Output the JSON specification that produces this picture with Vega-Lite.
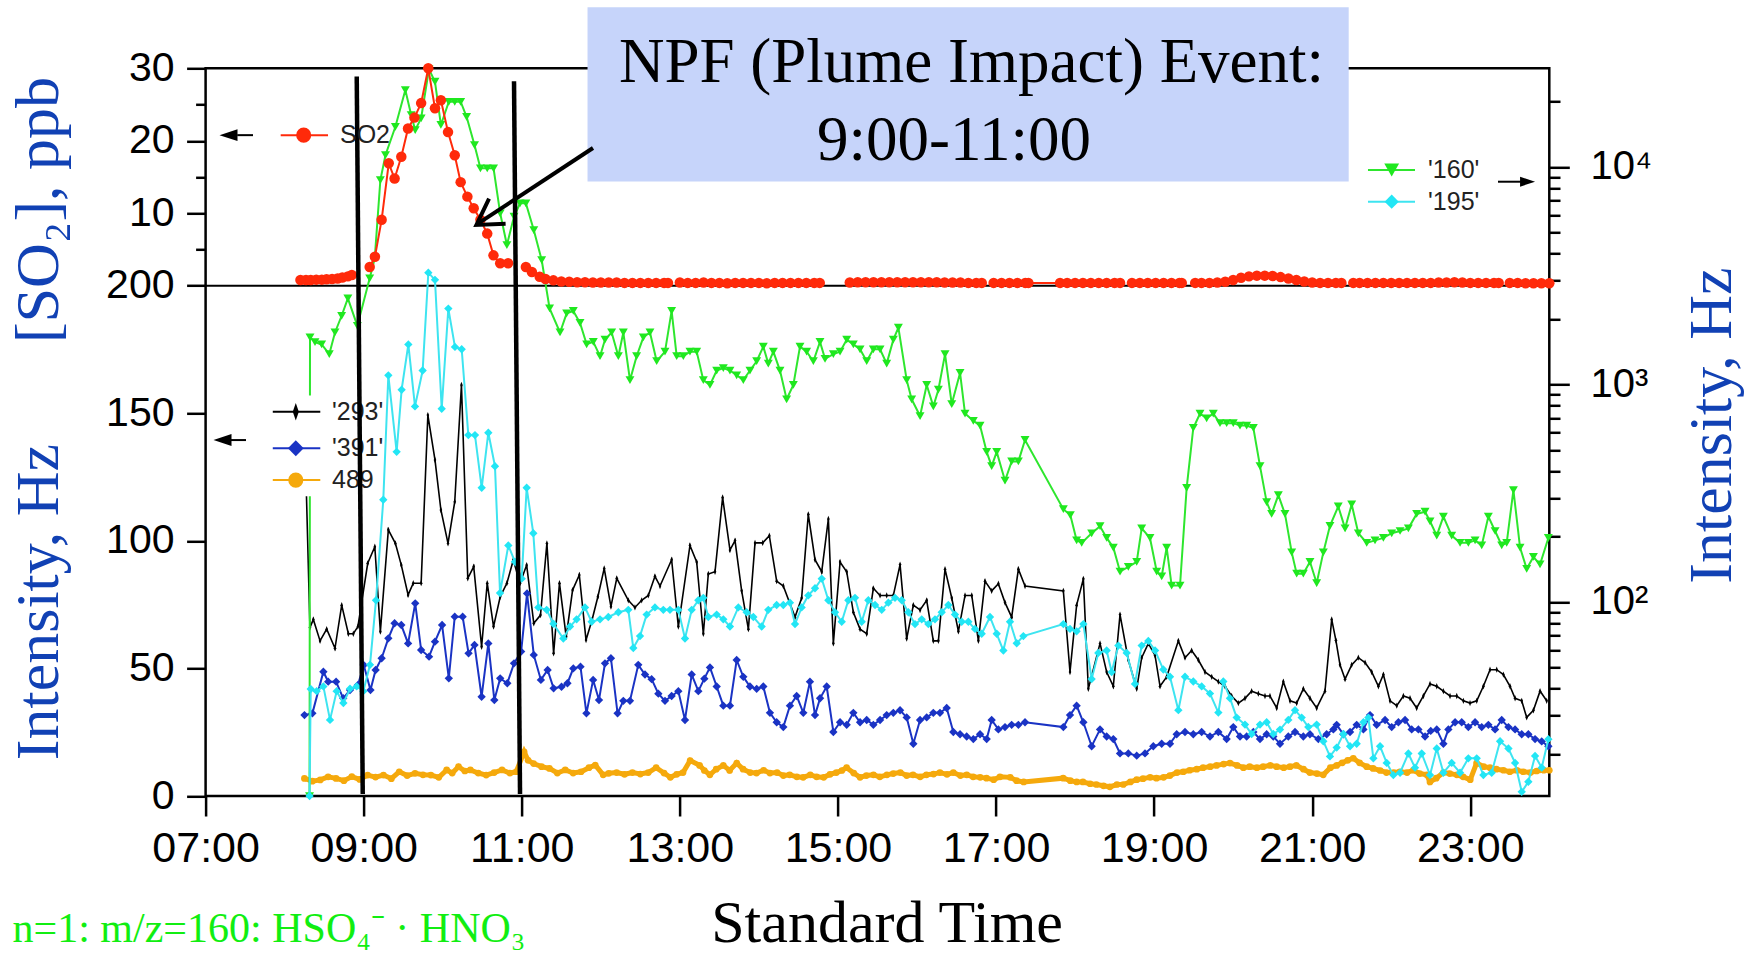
{
"$schema":"https://vega.github.io/schema/vega-lite/v6.json",
"usermeta":{"embedOptions":{"actions":false}},
"autosize":{"type":"none"},
"padding":{"left":205.6,"top":68.3,"right":206.7,"bottom":160},
"width":1343.7,"height":727.7,
"background":"white",
"config":{"view":{"stroke":"#000","strokeWidth":2.5},"axis":{"grid":false,"domain":false,"tickColor":"#000","tickWidth":2.5,"labelColor":"#000","labelFont":"Liberation Sans","labelFontSize":41,"titleFont":"Liberation Serif","titleFontSize":62,"titleFontWeight":"normal","labelOverlap":false,"labelFlush":false,"labelBound":false}},
"data":{"values":[{}]},
"datasets":{
"orange":[{"h":8.25,"v":6.9},{"h":8.35,"v":5.8},{"h":8.45,"v":6.3},{"h":8.55,"v":7.5},{"h":8.65,"v":6.9},{"h":8.75,"v":6.0},{"h":8.85,"v":7.6},{"h":8.95,"v":6.5},{"h":9.05,"v":8.2},{"h":9.15,"v":7.4},{"h":9.25,"v":8.2},{"h":9.35,"v":6.8},{"h":9.45,"v":9.5},{"h":9.55,"v":8.0},{"h":9.65,"v":8.9},{"h":9.75,"v":8.3},{"h":9.85,"v":8.2},{"h":9.95,"v":7.3},{"h":10.05,"v":10.2},{"h":10.12,"v":9.0},{"h":10.2,"v":11.5},{"h":10.28,"v":9.8},{"h":10.35,"v":10.2},{"h":10.45,"v":9.0},{"h":10.55,"v":8.2},{"h":10.65,"v":9.2},{"h":10.75,"v":10.2},{"h":10.85,"v":9.0},{"h":10.93,"v":9.5},{"h":11.03,"v":17.3},{"h":11.08,"v":14.0},{"h":11.15,"v":12.7},{"h":11.25,"v":11.5},{"h":11.35,"v":10.8},{"h":11.45,"v":9.0},{"h":11.55,"v":10.2},{"h":11.65,"v":9.0},{"h":11.75,"v":9.5},{"h":11.85,"v":11.1},{"h":11.93,"v":12.1},{"h":12.03,"v":8.3},{"h":12.1,"v":8.9},{"h":12.2,"v":9.2},{"h":12.3,"v":8.5},{"h":12.4,"v":9.2},{"h":12.5,"v":8.6},{"h":12.6,"v":9.2},{"h":12.7,"v":11.1},{"h":12.8,"v":9.0},{"h":12.88,"v":7.3},{"h":12.96,"v":8.5},{"h":13.04,"v":9.2},{"h":13.13,"v":13.9},{"h":13.25,"v":12.0},{"h":13.31,"v":10.0},{"h":13.38,"v":8.3},{"h":13.46,"v":10.5},{"h":13.55,"v":12.0},{"h":13.63,"v":10.0},{"h":13.72,"v":12.9},{"h":13.8,"v":10.5},{"h":13.89,"v":9.2},{"h":13.97,"v":9.0},{"h":14.06,"v":10.1},{"h":14.14,"v":9.0},{"h":14.23,"v":9.2},{"h":14.31,"v":8.0},{"h":14.39,"v":8.3},{"h":14.48,"v":7.5},{"h":14.56,"v":7.3},{"h":14.65,"v":8.3},{"h":14.73,"v":7.5},{"h":14.82,"v":7.3},{"h":14.9,"v":8.5},{"h":14.98,"v":9.2},{"h":15.05,"v":10.0},{"h":15.11,"v":11.1},{"h":15.2,"v":9.0},{"h":15.28,"v":7.3},{"h":15.36,"v":8.0},{"h":15.45,"v":8.3},{"h":15.53,"v":7.5},{"h":15.62,"v":8.3},{"h":15.7,"v":8.8},{"h":15.79,"v":9.2},{"h":15.87,"v":8.0},{"h":15.95,"v":8.3},{"h":16.04,"v":7.5},{"h":16.12,"v":8.3},{"h":16.21,"v":8.6},{"h":16.29,"v":9.2},{"h":16.38,"v":8.5},{"h":16.46,"v":9.2},{"h":16.55,"v":8.0},{"h":16.63,"v":8.3},{"h":16.71,"v":7.5},{"h":16.8,"v":7.3},{"h":16.88,"v":7.0},{"h":16.97,"v":6.4},{"h":17.05,"v":7.5},{"h":17.18,"v":7.3},{"h":17.26,"v":6.0},{"h":17.35,"v":5.5},{"h":17.85,"v":7.0},{"h":17.94,"v":6.0},{"h":18.02,"v":5.5},{"h":18.1,"v":5.5},{"h":18.19,"v":4.8},{"h":18.27,"v":4.5},{"h":18.36,"v":4.0},{"h":18.44,"v":3.6},{"h":18.53,"v":4.5},{"h":18.61,"v":4.5},{"h":18.7,"v":5.5},{"h":18.78,"v":6.4},{"h":18.86,"v":6.8},{"h":18.95,"v":7.3},{"h":19.03,"v":7.0},{"h":19.12,"v":7.3},{"h":19.2,"v":8.0},{"h":19.29,"v":9.2},{"h":19.37,"v":9.5},{"h":19.45,"v":10.1},{"h":19.54,"v":10.5},{"h":19.62,"v":11.1},{"h":19.71,"v":11.5},{"h":19.79,"v":12.0},{"h":19.88,"v":12.5},{"h":19.96,"v":12.9},{"h":20.05,"v":12.0},{"h":20.13,"v":11.1},{"h":20.21,"v":11.5},{"h":20.3,"v":11.1},{"h":20.38,"v":11.5},{"h":20.47,"v":12.0},{"h":20.55,"v":11.5},{"h":20.64,"v":11.1},{"h":20.72,"v":11.5},{"h":20.8,"v":12.0},{"h":20.89,"v":10.5},{"h":20.97,"v":9.2},{"h":21.06,"v":8.8},{"h":21.14,"v":8.3},{"h":21.23,"v":11.1},{"h":21.31,"v":12.0},{"h":21.38,"v":13.0},{"h":21.45,"v":14.0},{"h":21.52,"v":14.8},{"h":21.6,"v":13.0},{"h":21.69,"v":11.5},{"h":21.77,"v":10.8},{"h":21.86,"v":10.0},{"h":21.94,"v":9.2},{"h":22.03,"v":9.2},{"h":22.11,"v":9.5},{"h":22.2,"v":9.2},{"h":22.28,"v":10.1},{"h":22.36,"v":8.8},{"h":22.45,"v":8.3},{"h":22.49,"v":5.5},{"h":22.57,"v":7.0},{"h":22.66,"v":9.2},{"h":22.74,"v":8.8},{"h":22.83,"v":8.3},{"h":22.91,"v":7.5},{"h":23.0,"v":6.4},{"h":23.08,"v":12.9},{"h":23.17,"v":11.5},{"h":23.25,"v":11.1},{"h":23.33,"v":10.5},{"h":23.42,"v":10.1},{"h":23.5,"v":9.5},{"h":23.59,"v":10.1},{"h":23.67,"v":9.5},{"h":23.76,"v":9.2},{"h":23.84,"v":9.8},{"h":23.93,"v":10.1},{"h":24.0,"v":10.1}],
"black":[{"h":8.27,"v":125},{"h":8.32,"v":66},{"h":8.363,"v":69.2},{"h":8.448,"v":60.8},{"h":8.532,"v":65.4},{"h":8.637,"v":57.9},{"h":8.722,"v":74.8},{"h":8.806,"v":63.6},{"h":8.869,"v":63.6},{"h":8.927,"v":66.4},{"h":9.051,"v":91.2},{"h":9.141,"v":97.7},{"h":9.211,"v":64.4},{"h":9.312,"v":104.3},{"h":9.401,"v":99.0},{"h":9.476,"v":90.5},{"h":9.562,"v":78.8},{"h":9.627,"v":83.4},{"h":9.727,"v":83.4},{"h":9.812,"v":149.3},{"h":9.902,"v":131.7},{"h":9.977,"v":112.1},{"h":10.067,"v":99.0},{"h":10.152,"v":115.3},{"h":10.237,"v":161.1},{"h":10.317,"v":85.3},{"h":10.392,"v":89.9},{"h":10.492,"v":58.5},{"h":10.563,"v":83.4},{"h":10.643,"v":66.4},{"h":10.727,"v":78.1},{"h":10.812,"v":83.4},{"h":10.893,"v":92.5},{"h":10.978,"v":83.4},{"h":11.062,"v":90.5},{"h":11.152,"v":67.7},{"h":11.237,"v":70.9},{"h":11.318,"v":99.0},{"h":11.403,"v":55.9},{"h":11.477,"v":83.4},{"h":11.562,"v":62.4},{"h":11.643,"v":80.7},{"h":11.728,"v":86.6},{"h":11.813,"v":61.1},{"h":11.889,"v":69.0},{"h":11.963,"v":78.1},{"h":12.043,"v":89.2},{"h":12.128,"v":74.2},{"h":12.202,"v":85.3},{"h":12.348,"v":76.7},{"h":12.432,"v":73.9},{"h":12.517,"v":76.7},{"h":12.601,"v":78.6},{"h":12.685,"v":86.1},{"h":12.749,"v":82.3},{"h":12.896,"v":92.6},{"h":12.981,"v":66.4},{"h":13.128,"v":98.2},{"h":13.213,"v":91.7},{"h":13.297,"v":63.6},{"h":13.36,"v":87.0},{"h":13.445,"v":87.9},{"h":13.541,"v":117.0},{"h":13.634,"v":96.4},{"h":13.698,"v":100.1},{"h":13.782,"v":80.4},{"h":13.867,"v":65.4},{"h":13.951,"v":99.2},{"h":14.048,"v":99.2},{"h":14.132,"v":102.0},{"h":14.225,"v":84.2},{"h":14.309,"v":82.3},{"h":14.457,"v":70.1},{"h":14.541,"v":77.6},{"h":14.625,"v":110.4},{"h":14.71,"v":92.6},{"h":14.795,"v":87.9},{"h":14.879,"v":108.6},{"h":14.942,"v":59.8},{"h":15.027,"v":91.7},{"h":15.111,"v":87.9},{"h":15.195,"v":72.0},{"h":15.28,"v":65.4},{"h":15.364,"v":63.6},{"h":15.448,"v":81.4},{"h":15.533,"v":78.6},{"h":15.617,"v":78.6},{"h":15.701,"v":78.6},{"h":15.786,"v":90.7},{"h":15.87,"v":61.7},{"h":15.954,"v":74.8},{"h":16.039,"v":72.9},{"h":16.123,"v":76.7},{"h":16.207,"v":60.8},{"h":16.271,"v":60.8},{"h":16.355,"v":88.9},{"h":16.44,"v":77.6},{"h":16.524,"v":64.5},{"h":16.608,"v":78.6},{"h":16.693,"v":78.6},{"h":16.777,"v":60.8},{"h":16.861,"v":84.2},{"h":16.945,"v":80.4},{"h":17.03,"v":83.2},{"h":17.114,"v":75.8},{"h":17.198,"v":70.1},{"h":17.283,"v":88.9},{"h":17.367,"v":82.3},{"h":17.852,"v":80.4},{"h":17.936,"v":48.6},{"h":18.02,"v":74.8},{"h":18.105,"v":85.1},{"h":18.168,"v":42.0},{"h":18.316,"v":59.8},{"h":18.4,"v":48.6},{"h":18.484,"v":43.0},{"h":18.569,"v":71.1},{"h":18.674,"v":53.3},{"h":18.78,"v":42.0},{"h":18.843,"v":54.2},{"h":18.927,"v":59.8},{"h":19.012,"v":55.1},{"h":19.075,"v":43.0},{"h":19.159,"v":46.7},{"h":19.307,"v":60.8},{"h":19.391,"v":54.2},{"h":19.475,"v":57.0},{"h":19.56,"v":53.3},{"h":19.644,"v":48.6},{"h":19.729,"v":46.7},{"h":19.813,"v":44.8},{"h":19.897,"v":43.0},{"h":19.981,"v":39.2},{"h":20.066,"v":36.4},{"h":20.15,"v":38.3},{"h":20.234,"v":41.1},{"h":20.319,"v":40.1},{"h":20.403,"v":39.2},{"h":20.466,"v":39.2},{"h":20.551,"v":34.5},{"h":20.635,"v":44.8},{"h":20.72,"v":37.3},{"h":20.804,"v":36.4},{"h":20.888,"v":42.0},{"h":20.972,"v":38.3},{"h":21.057,"v":34.5},{"h":21.162,"v":41.1},{"h":21.247,"v":69.2},{"h":21.3,"v":61.0},{"h":21.352,"v":51.4},{"h":21.416,"v":45.8},{"h":21.5,"v":51.4},{"h":21.584,"v":54.2},{"h":21.669,"v":52.3},{"h":21.753,"v":48.6},{"h":21.838,"v":43.0},{"h":21.901,"v":47.6},{"h":21.985,"v":37.3},{"h":22.07,"v":35.4},{"h":22.154,"v":39.2},{"h":22.238,"v":38.3},{"h":22.322,"v":34.5},{"h":22.407,"v":39.2},{"h":22.491,"v":43.9},{"h":22.576,"v":43.0},{"h":22.66,"v":41.1},{"h":22.744,"v":39.2},{"h":22.829,"v":39.2},{"h":22.913,"v":37.3},{"h":22.997,"v":36.4},{"h":23.082,"v":37.3},{"h":23.166,"v":43.0},{"h":23.25,"v":49.5},{"h":23.335,"v":49.5},{"h":23.419,"v":47.6},{"h":23.503,"v":43.0},{"h":23.567,"v":38.3},{"h":23.651,"v":37.3},{"h":23.714,"v":30.8},{"h":23.799,"v":33.6},{"h":23.883,"v":41.1},{"h":23.967,"v":37.3}],
"blue":[{"h":8.251,"v":31.7},{"h":8.351,"v":32.4},{"h":8.49,"v":48.7},{"h":8.551,"v":44.8},{"h":8.651,"v":44.8},{"h":8.741,"v":38.3},{"h":8.827,"v":41.5},{"h":8.927,"v":43.5},{"h":9.001,"v":51.3},{"h":9.086,"v":41.5},{"h":9.151,"v":49.4},{"h":9.227,"v":54.0},{"h":9.312,"v":61.8},{"h":9.391,"v":67.7},{"h":9.476,"v":67.0},{"h":9.562,"v":59.8},{"h":9.652,"v":75.5},{"h":9.727,"v":57.2},{"h":9.827,"v":54.6},{"h":9.902,"v":60.5},{"h":9.992,"v":67.0},{"h":10.077,"v":46.1},{"h":10.152,"v":70.3},{"h":10.252,"v":70.3},{"h":10.327,"v":55.9},{"h":10.402,"v":59.2},{"h":10.492,"v":38.9},{"h":10.577,"v":59.8},{"h":10.653,"v":37.6},{"h":10.727,"v":46.1},{"h":10.817,"v":44.2},{"h":10.902,"v":52.0},{"h":10.992,"v":56.6},{"h":11.067,"v":79.4},{"h":11.152,"v":55.3},{"h":11.242,"v":45.5},{"h":11.327,"v":49.4},{"h":11.403,"v":42.2},{"h":11.503,"v":42.8},{"h":11.578,"v":44.2},{"h":11.652,"v":50.0},{"h":11.743,"v":50.7},{"h":11.818,"v":32.4},{"h":11.903,"v":45.5},{"h":11.977,"v":37.6},{"h":12.053,"v":52.0},{"h":12.128,"v":54.0},{"h":12.212,"v":32.4},{"h":12.285,"v":37.3},{"h":12.369,"v":37.3},{"h":12.474,"v":51.4},{"h":12.559,"v":47.6},{"h":12.643,"v":45.8},{"h":12.728,"v":40.1},{"h":12.812,"v":37.3},{"h":12.896,"v":39.2},{"h":12.981,"v":41.1},{"h":13.065,"v":29.8},{"h":13.15,"v":47.6},{"h":13.234,"v":41.1},{"h":13.31,"v":46.0},{"h":13.381,"v":50.4},{"h":13.466,"v":42.9},{"h":13.55,"v":35.4},{"h":13.634,"v":35.4},{"h":13.719,"v":53.3},{"h":13.803,"v":46.7},{"h":13.887,"v":42.9},{"h":13.972,"v":42.0},{"h":14.056,"v":42.9},{"h":14.14,"v":32.6},{"h":14.225,"v":28.9},{"h":14.309,"v":27.0},{"h":14.393,"v":35.4},{"h":14.478,"v":39.2},{"h":14.562,"v":32.6},{"h":14.646,"v":44.8},{"h":14.71,"v":31.7},{"h":14.774,"v":38.3},{"h":14.858,"v":42.9},{"h":14.942,"v":25.1},{"h":15.027,"v":28.9},{"h":15.111,"v":27.9},{"h":15.195,"v":32.6},{"h":15.28,"v":28.9},{"h":15.364,"v":29.8},{"h":15.448,"v":27.9},{"h":15.533,"v":29.8},{"h":15.617,"v":31.7},{"h":15.701,"v":32.6},{"h":15.786,"v":33.6},{"h":15.87,"v":30.8},{"h":15.954,"v":20.5},{"h":16.039,"v":29.8},{"h":16.123,"v":30.8},{"h":16.207,"v":32.6},{"h":16.291,"v":32.6},{"h":16.376,"v":34.5},{"h":16.46,"v":25.1},{"h":16.545,"v":24.2},{"h":16.629,"v":23.3},{"h":16.713,"v":22.3},{"h":16.798,"v":24.2},{"h":16.882,"v":22.3},{"h":16.945,"v":29.8},{"h":17.03,"v":26.1},{"h":17.114,"v":27.0},{"h":17.198,"v":27.9},{"h":17.283,"v":27.9},{"h":17.367,"v":28.9},{"h":17.852,"v":27.0},{"h":17.936,"v":31.7},{"h":18.02,"v":35.4},{"h":18.105,"v":28.9},{"h":18.21,"v":19.5},{"h":18.316,"v":26.1},{"h":18.4,"v":23.3},{"h":18.484,"v":22.3},{"h":18.569,"v":16.7},{"h":18.674,"v":16.7},{"h":18.78,"v":15.8},{"h":18.885,"v":16.7},{"h":18.99,"v":19.5},{"h":19.096,"v":20.5},{"h":19.201,"v":20.5},{"h":19.286,"v":24.2},{"h":19.391,"v":25.1},{"h":19.496,"v":24.2},{"h":19.602,"v":25.1},{"h":19.707,"v":23.3},{"h":19.813,"v":25.1},{"h":19.918,"v":22.3},{"h":20.002,"v":27.0},{"h":20.087,"v":23.3},{"h":20.171,"v":23.3},{"h":20.256,"v":25.1},{"h":20.34,"v":22.3},{"h":20.424,"v":24.2},{"h":20.508,"v":23.3},{"h":20.593,"v":20.5},{"h":20.698,"v":23.3},{"h":20.783,"v":25.1},{"h":20.888,"v":23.3},{"h":20.972,"v":24.2},{"h":21.078,"v":22.3},{"h":21.183,"v":24.2},{"h":21.268,"v":26.1},{"h":21.31,"v":27.9},{"h":21.395,"v":24.2},{"h":21.479,"v":25.1},{"h":21.563,"v":27.9},{"h":21.648,"v":26.1},{"h":21.732,"v":31.7},{"h":21.816,"v":27.9},{"h":21.922,"v":29.8},{"h":22.006,"v":27.0},{"h":22.091,"v":28.9},{"h":22.175,"v":29.8},{"h":22.259,"v":26.1},{"h":22.344,"v":26.1},{"h":22.428,"v":23.3},{"h":22.5,"v":25.5},{"h":22.576,"v":26.1},{"h":22.66,"v":20.5},{"h":22.723,"v":26.1},{"h":22.808,"v":28.9},{"h":22.892,"v":28.9},{"h":22.976,"v":27.0},{"h":23.061,"v":28.9},{"h":23.145,"v":27.0},{"h":23.229,"v":27.9},{"h":23.314,"v":26.1},{"h":23.398,"v":29.8},{"h":23.483,"v":27.0},{"h":23.567,"v":26.1},{"h":23.651,"v":24.2},{"h":23.735,"v":24.2},{"h":23.82,"v":22.3},{"h":23.904,"v":21.4},{"h":23.988,"v":19.5}],
"green":[{"h":8.315,"v":12.82},{"h":8.321,"v":1648},{"h":8.384,"v":1567},{"h":8.468,"v":1528},{"h":8.565,"v":1380},{"h":8.637,"v":1734},{"h":8.721,"v":2070},{"h":8.8,"v":2489},{"h":8.92,"v":1862},{"h":9.076,"v":3076},{"h":9.14,"v":3802},{"h":9.211,"v":8710},{"h":9.276,"v":11350},{"h":9.401,"v":15310},{"h":9.527,"v":22590},{"h":9.601,"v":17340},{"h":9.652,"v":14790},{"h":9.727,"v":16750},{"h":9.826,"v":28180},{"h":9.902,"v":24660},{"h":9.977,"v":15600},{"h":10.077,"v":19950},{"h":10.152,"v":19950},{"h":10.227,"v":19950},{"h":10.302,"v":17020},{"h":10.402,"v":12620},{"h":10.477,"v":9863},{"h":10.563,"v":9863},{"h":10.643,"v":9863},{"h":10.727,"v":6124},{"h":10.812,"v":4375},{"h":10.902,"v":5916},{"h":10.978,"v":6808},{"h":11.052,"v":6808},{"h":11.152,"v":5129},{"h":11.252,"v":3733},{"h":11.352,"v":2239},{"h":11.484,"v":1734},{"h":11.568,"v":2123},{"h":11.652,"v":2178},{"h":11.737,"v":1919},{"h":11.821,"v":1531},{"h":11.905,"v":1570},{"h":11.99,"v":1349},{"h":12.053,"v":1607},{"h":12.137,"v":1734},{"h":12.222,"v":1349},{"h":12.285,"v":1734},{"h":12.369,"v":1047},{"h":12.453,"v":1349},{"h":12.538,"v":1648},{"h":12.622,"v":1734},{"h":12.707,"v":1279},{"h":12.812,"v":1416},{"h":12.896,"v":2178},{"h":12.96,"v":1349},{"h":13.044,"v":1349},{"h":13.128,"v":1416},{"h":13.213,"v":1416},{"h":13.297,"v":1047},{"h":13.381,"v":995},{"h":13.466,"v":1159},{"h":13.55,"v":1189},{"h":13.634,"v":1159},{"h":13.719,"v":1102},{"h":13.803,"v":1047},{"h":13.887,"v":1159},{"h":13.972,"v":1279},{"h":14.056,"v":1493},{"h":14.119,"v":1247},{"h":14.183,"v":1416},{"h":14.267,"v":1159},{"h":14.351,"v":855},{"h":14.436,"v":995},{"h":14.52,"v":1493},{"h":14.604,"v":1416},{"h":14.689,"v":1279},{"h":14.773,"v":1570},{"h":14.837,"v":1312},{"h":14.942,"v":1380},{"h":15.027,"v":1416},{"h":15.111,"v":1607},{"h":15.195,"v":1528},{"h":15.28,"v":1452},{"h":15.364,"v":1279},{"h":15.448,"v":1452},{"h":15.533,"v":1452},{"h":15.617,"v":1247},{"h":15.701,"v":1607},{"h":15.765,"v":1824},{"h":15.87,"v":1047},{"h":15.933,"v":855},{"h":16.039,"v":716},{"h":16.123,"v":995},{"h":16.207,"v":793},{"h":16.271,"v":946},{"h":16.355,"v":1380},{"h":16.44,"v":813},{"h":16.545,"v":1130},{"h":16.608,"v":735},{"h":16.713,"v":681},{"h":16.798,"v":647},{"h":16.882,"v":490},{"h":16.945,"v":421},{"h":17.009,"v":490},{"h":17.114,"v":361},{"h":17.198,"v":443},{"h":17.283,"v":443},{"h":17.367,"v":556},{"h":17.852,"v":267},{"h":17.94,"v":251},{"h":18.02,"v":192},{"h":18.084,"v":187},{"h":18.21,"v":207},{"h":18.316,"v":223},{"h":18.4,"v":197},{"h":18.484,"v":178},{"h":18.569,"v":138},{"h":18.674,"v":145},{"h":18.78,"v":153},{"h":18.843,"v":218},{"h":18.948,"v":197},{"h":19.033,"v":138},{"h":19.096,"v":131},{"h":19.159,"v":178},{"h":19.222,"v":119},{"h":19.328,"v":119},{"h":19.412,"v":335},{"h":19.496,"v":631},{"h":19.581,"v":735},{"h":19.665,"v":698},{"h":19.749,"v":735},{"h":19.834,"v":664},{"h":19.918,"v":664},{"h":20.002,"v":664},{"h":20.087,"v":647},{"h":20.171,"v":647},{"h":20.256,"v":631},{"h":20.34,"v":421},{"h":20.424,"v":288},{"h":20.487,"v":254},{"h":20.572,"v":310},{"h":20.656,"v":254},{"h":20.741,"v":169},{"h":20.804,"v":135},{"h":20.888,"v":135},{"h":20.972,"v":153},{"h":21.057,"v":122},{"h":21.141,"v":169},{"h":21.225,"v":224},{"h":21.33,"v":275},{"h":21.416,"v":218},{"h":21.5,"v":281},{"h":21.584,"v":207},{"h":21.69,"v":187},{"h":21.795,"v":192},{"h":21.901,"v":197},{"h":22.006,"v":207},{"h":22.112,"v":212},{"h":22.217,"v":218},{"h":22.322,"v":254},{"h":22.428,"v":260},{"h":22.491,"v":235},{"h":22.576,"v":202},{"h":22.66,"v":247},{"h":22.765,"v":202},{"h":22.871,"v":187},{"h":22.976,"v":187},{"h":23.061,"v":192},{"h":23.145,"v":182},{"h":23.229,"v":247},{"h":23.314,"v":212},{"h":23.398,"v":182},{"h":23.461,"v":187},{"h":23.546,"v":327},{"h":23.63,"v":178},{"h":23.714,"v":142},{"h":23.799,"v":161},{"h":23.883,"v":149},{"h":23.988,"v":197}],
"cyan":[{"h":8.315,"v":12.82},{"h":8.33,"v":39.8},{"h":8.405,"v":38.9},{"h":8.49,"v":40.9},{"h":8.574,"v":28.7},{"h":8.658,"v":38.9},{"h":8.743,"v":34.3},{"h":8.827,"v":39.9},{"h":8.911,"v":40.9},{"h":8.996,"v":38.9},{"h":9.08,"v":51.4},{"h":9.156,"v":101.9},{"h":9.248,"v":295},{"h":9.312,"v":1102},{"h":9.417,"v":490},{"h":9.48,"v":946},{"h":9.565,"v":1528},{"h":9.649,"v":793},{"h":9.746,"v":1159},{"h":9.818,"v":3266},{"h":9.902,"v":3027},{"h":9.987,"v":773},{"h":10.071,"v":2234},{"h":10.155,"v":1489},{"h":10.24,"v":1452},{"h":10.324,"v":585},{"h":10.408,"v":585},{"h":10.493,"v":335},{"h":10.577,"v":600},{"h":10.661,"v":421},{"h":10.725,"v":110},{"h":10.83,"v":182},{"h":10.914,"v":153},{"h":10.999,"v":128},{"h":11.062,"v":335},{"h":11.146,"v":207},{"h":11.21,"v":94.4},{"h":11.315,"v":92.0},{"h":11.4,"v":79.4},{"h":11.526,"v":67.9},{"h":11.61,"v":77.1},{"h":11.694,"v":83.2},{"h":11.8,"v":94.4},{"h":11.884,"v":81.1},{"h":11.99,"v":83.2},{"h":12.095,"v":85.3},{"h":12.222,"v":89.7},{"h":12.348,"v":92.0},{"h":12.411,"v":61.4},{"h":12.496,"v":69.7},{"h":12.58,"v":87.5},{"h":12.685,"v":94.4},{"h":12.791,"v":92.0},{"h":12.875,"v":92.0},{"h":12.981,"v":92.0},{"h":13.065,"v":67.9},{"h":13.15,"v":92.0},{"h":13.234,"v":101.9},{"h":13.297,"v":104.5},{"h":13.36,"v":85.3},{"h":13.466,"v":87.5},{"h":13.55,"v":83.2},{"h":13.634,"v":77.1},{"h":13.74,"v":94.4},{"h":13.845,"v":89.7},{"h":13.93,"v":85.3},{"h":14.035,"v":77.1},{"h":14.119,"v":92.0},{"h":14.225,"v":96.8},{"h":14.309,"v":96.8},{"h":14.393,"v":99.3},{"h":14.457,"v":79.1},{"h":14.541,"v":94.4},{"h":14.625,"v":107.2},{"h":14.71,"v":115.6},{"h":14.795,"v":128},{"h":14.879,"v":101.9},{"h":14.963,"v":89.7},{"h":15.048,"v":81.1},{"h":15.132,"v":101.9},{"h":15.216,"v":104.5},{"h":15.301,"v":81.1},{"h":15.385,"v":101.9},{"h":15.47,"v":96.8},{"h":15.554,"v":92.0},{"h":15.638,"v":99.3},{"h":15.722,"v":104.5},{"h":15.807,"v":101.9},{"h":15.891,"v":89.7},{"h":15.975,"v":79.1},{"h":16.06,"v":83.2},{"h":16.144,"v":79.1},{"h":16.228,"v":83.2},{"h":16.313,"v":89.7},{"h":16.397,"v":96.8},{"h":16.481,"v":87.5},{"h":16.566,"v":81.1},{"h":16.65,"v":81.1},{"h":16.734,"v":75.2},{"h":16.819,"v":71.4},{"h":16.924,"v":85.3},{"h":17.009,"v":71.4},{"h":17.093,"v":59.8},{"h":17.177,"v":81.1},{"h":17.262,"v":64.6},{"h":17.346,"v":69.7},{"h":17.852,"v":79.1},{"h":17.936,"v":75.2},{"h":18.02,"v":73.3},{"h":18.105,"v":79.1},{"h":18.21,"v":44.2},{"h":18.294,"v":58.3},{"h":18.4,"v":59.8},{"h":18.463,"v":47.6},{"h":18.548,"v":63.0},{"h":18.653,"v":58.3},{"h":18.758,"v":42.0},{"h":18.843,"v":63.0},{"h":18.927,"v":66.2},{"h":19.012,"v":59.8},{"h":19.117,"v":48.9},{"h":19.201,"v":45.3},{"h":19.307,"v":31.8},{"h":19.391,"v":45.3},{"h":19.496,"v":43.1},{"h":19.602,"v":40.9},{"h":19.707,"v":37.9},{"h":19.813,"v":31.0},{"h":19.876,"v":43.1},{"h":19.96,"v":36.1},{"h":20.045,"v":29.4},{"h":20.15,"v":27.3},{"h":20.234,"v":24.7},{"h":20.34,"v":27.3},{"h":20.424,"v":28.0},{"h":20.508,"v":24.7},{"h":20.593,"v":25.9},{"h":20.698,"v":28.7},{"h":20.783,"v":31.8},{"h":20.867,"v":29.4},{"h":20.951,"v":26.6},{"h":21.057,"v":27.3},{"h":21.141,"v":22.9},{"h":21.225,"v":19.5},{"h":21.31,"v":21.4},{"h":21.395,"v":24.7},{"h":21.479,"v":21.7},{"h":21.563,"v":22.3},{"h":21.648,"v":28.0},{"h":21.711,"v":29.4},{"h":21.774,"v":19.1},{"h":21.859,"v":21.7},{"h":21.943,"v":18.2},{"h":22.027,"v":16.0},{"h":22.112,"v":16.4},{"h":22.217,"v":20.1},{"h":22.301,"v":17.3},{"h":22.386,"v":20.1},{"h":22.491,"v":16.0},{"h":22.576,"v":21.2},{"h":22.66,"v":16.4},{"h":22.765,"v":18.2},{"h":22.871,"v":16.4},{"h":22.976,"v":19.1},{"h":23.082,"v":19.1},{"h":23.166,"v":16.0},{"h":23.271,"v":16.4},{"h":23.377,"v":22.9},{"h":23.483,"v":21.2},{"h":23.567,"v":18.2},{"h":23.651,"v":13.4},{"h":23.735,"v":14.9},{"h":23.82,"v":19.6},{"h":23.904,"v":17.3},{"h":23.988,"v":23.4}],
"so2":[{"h":8.2,"v":0.8,"s":"a"},{"h":8.27,"v":0.8,"s":"a"},{"h":8.33,"v":0.8,"s":"a"},{"h":8.4,"v":0.85,"s":"a"},{"h":8.47,"v":0.85,"s":"a"},{"h":8.53,"v":0.9,"s":"a"},{"h":8.6,"v":0.95,"s":"a"},{"h":8.67,"v":1.0,"s":"a"},{"h":8.73,"v":1.15,"s":"a"},{"h":8.8,"v":1.3,"s":"a"},{"h":8.85,"v":1.5,"s":"a"},
{"h":9.076,"v":2.6,"s":"b"},{"h":9.142,"v":4.0,"s":"b"},{"h":9.227,"v":9.1,"s":"b"},{"h":9.317,"v":16.9,"s":"b"},{"h":9.391,"v":14.8,"s":"b"},{"h":9.476,"v":17.8,"s":"b"},{"h":9.561,"v":21.7,"s":"b"},{"h":9.642,"v":23.2,"s":"b"},{"h":9.727,"v":25.2,"s":"b"},{"h":9.817,"v":30.0,"s":"b"},{"h":9.902,"v":24.5,"s":"b"},{"h":9.977,"v":25.6,"s":"b"},{"h":10.067,"v":21.2,"s":"b"},{"h":10.152,"v":18.0,"s":"b"},{"h":10.227,"v":14.3,"s":"b"},{"h":10.312,"v":12.3,"s":"b"},{"h":10.392,"v":10.7,"s":"b"},{"h":10.477,"v":9.1,"s":"b"},{"h":10.563,"v":7.2,"s":"b"},{"h":10.642,"v":4.2,"s":"b"},{"h":10.727,"v":3.1,"s":"b"},{"h":10.827,"v":3.1,"s":"b"},
{"h":11.052,"v":2.6,"s":"c"},{"h":11.128,"v":1.9,"s":"c"},{"h":11.227,"v":1.24,"s":"c"},{"h":11.3,"v":0.95,"s":"c"},{"h":11.4,"v":0.75,"s":"c"},{"h":11.5,"v":0.6,"s":"c"},{"h":11.6,"v":0.55,"s":"c"},{"h":11.7,"v":0.5,"s":"c"},{"h":11.8,"v":0.5,"s":"c"},{"h":11.9,"v":0.45,"s":"c"},{"h":12.0,"v":0.45,"s":"c"},{"h":12.1,"v":0.45,"s":"c"},{"h":12.2,"v":0.45,"s":"c"},{"h":12.3,"v":0.4,"s":"c"},{"h":12.4,"v":0.4,"s":"c"},{"h":12.5,"v":0.4,"s":"c"},{"h":12.6,"v":0.4,"s":"c"},{"h":12.7,"v":0.4,"s":"c"},{"h":12.8,"v":0.4,"s":"c"},{"h":12.85,"v":0.4,"s":"c"},
{"h":13.0,"v":0.45,"s":"d"},{"h":13.1,"v":0.4,"s":"d"},{"h":13.2,"v":0.4,"s":"d"},{"h":13.3,"v":0.45,"s":"d"},{"h":13.4,"v":0.4,"s":"d"},{"h":13.5,"v":0.4,"s":"d"},{"h":13.6,"v":0.35,"s":"d"},{"h":13.7,"v":0.4,"s":"d"},{"h":13.8,"v":0.4,"s":"d"},{"h":13.9,"v":0.4,"s":"d"},{"h":14.0,"v":0.4,"s":"d"},{"h":14.1,"v":0.35,"s":"d"},{"h":14.2,"v":0.4,"s":"d"},{"h":14.3,"v":0.4,"s":"d"},{"h":14.4,"v":0.4,"s":"d"},{"h":14.5,"v":0.4,"s":"d"},{"h":14.6,"v":0.4,"s":"d"},{"h":14.7,"v":0.4,"s":"d"},{"h":14.77,"v":0.4,"s":"d"},
{"h":15.15,"v":0.45,"s":"e"},{"h":15.25,"v":0.5,"s":"e"},{"h":15.35,"v":0.5,"s":"e"},{"h":15.45,"v":0.5,"s":"e"},{"h":15.55,"v":0.5,"s":"e"},{"h":15.65,"v":0.5,"s":"e"},{"h":15.75,"v":0.5,"s":"e"},{"h":15.85,"v":0.5,"s":"e"},{"h":15.95,"v":0.5,"s":"e"},{"h":16.05,"v":0.5,"s":"e"},{"h":16.15,"v":0.5,"s":"e"},{"h":16.25,"v":0.5,"s":"e"},{"h":16.35,"v":0.45,"s":"e"},{"h":16.45,"v":0.45,"s":"e"},{"h":16.55,"v":0.45,"s":"e"},{"h":16.65,"v":0.4,"s":"e"},{"h":16.75,"v":0.4,"s":"e"},{"h":16.82,"v":0.4,"s":"e"},
{"h":16.97,"v":0.4,"s":"f"},{"h":17.07,"v":0.4,"s":"f"},{"h":17.17,"v":0.4,"s":"f"},{"h":17.27,"v":0.4,"s":"f"},{"h":17.37,"v":0.4,"s":"f"},{"h":17.41,"v":0.4,"s":"f"},{"h":17.81,"v":0.4,"s":"f"},{"h":17.9,"v":0.4,"s":"f"},{"h":18.0,"v":0.4,"s":"f"},{"h":18.1,"v":0.4,"s":"f"},{"h":18.2,"v":0.4,"s":"f"},{"h":18.3,"v":0.4,"s":"f"},{"h":18.4,"v":0.4,"s":"f"},{"h":18.5,"v":0.4,"s":"f"},{"h":18.57,"v":0.4,"s":"f"},
{"h":18.72,"v":0.4,"s":"g"},{"h":18.82,"v":0.4,"s":"g"},{"h":18.92,"v":0.4,"s":"g"},{"h":19.02,"v":0.4,"s":"g"},{"h":19.12,"v":0.4,"s":"g"},{"h":19.22,"v":0.4,"s":"g"},{"h":19.32,"v":0.4,"s":"g"},{"h":19.35,"v":0.4,"s":"g"},
{"h":19.52,"v":0.4,"s":"h"},{"h":19.6,"v":0.4,"s":"h"},{"h":19.7,"v":0.4,"s":"h"},{"h":19.8,"v":0.45,"s":"h"},{"h":19.9,"v":0.55,"s":"h"},{"h":20.0,"v":0.8,"s":"h"},{"h":20.1,"v":1.1,"s":"h"},{"h":20.2,"v":1.3,"s":"h"},{"h":20.3,"v":1.4,"s":"h"},{"h":20.4,"v":1.4,"s":"h"},{"h":20.5,"v":1.35,"s":"h"},{"h":20.6,"v":1.2,"s":"h"},{"h":20.7,"v":1.0,"s":"h"},{"h":20.8,"v":0.8,"s":"h"},{"h":20.9,"v":0.6,"s":"h"},{"h":21.0,"v":0.45,"s":"h"},{"h":21.1,"v":0.4,"s":"h"},{"h":21.2,"v":0.4,"s":"h"},{"h":21.3,"v":0.4,"s":"h"},{"h":21.37,"v":0.4,"s":"h"},
{"h":21.52,"v":0.4,"s":"i"},{"h":21.6,"v":0.4,"s":"i"},{"h":21.7,"v":0.4,"s":"i"},{"h":21.8,"v":0.4,"s":"i"},{"h":21.9,"v":0.4,"s":"i"},{"h":22.0,"v":0.4,"s":"i"},{"h":22.1,"v":0.4,"s":"i"},{"h":22.2,"v":0.4,"s":"i"},{"h":22.3,"v":0.4,"s":"i"},{"h":22.4,"v":0.4,"s":"i"},{"h":22.5,"v":0.4,"s":"i"},{"h":22.6,"v":0.45,"s":"i"},{"h":22.7,"v":0.45,"s":"i"},{"h":22.8,"v":0.5,"s":"i"},{"h":22.9,"v":0.45,"s":"i"},{"h":23.0,"v":0.4,"s":"i"},{"h":23.1,"v":0.4,"s":"i"},{"h":23.2,"v":0.4,"s":"i"},{"h":23.3,"v":0.4,"s":"i"},{"h":23.36,"v":0.4,"s":"i"},
{"h":23.5,"v":0.4,"s":"j"},{"h":23.6,"v":0.4,"s":"j"},{"h":23.7,"v":0.35,"s":"j"},{"h":23.8,"v":0.35,"s":"j"},{"h":23.9,"v":0.35,"s":"j"},{"h":24.0,"v":0.35,"s":"j"}]
},
"resolve":{"scale":{"y":"independent"},"axis":{"y":"independent"}},
"layer":[
{"layer":[
 {"mark":{"type":"rule","stroke":"#000","strokeWidth":2},
  "encoding":{"x":{"datum":7,"type":"quantitative","scale":{"domain":[7,24],"nice":false,"zero":false}},"x2":{"datum":24},
   "y":{"datum":200,"type":"quantitative","scale":{"domain":[0,285.2],"nice":false,"zero":false},
    "axis":{"orient":"left","values":[0,50,100,150,200],"tickSize":19,"labelPadding":12.6,"title":"Intensity, Hz","titleX":-148.6,"titleY":533.2,"titleAngle":270,"titleBaseline":"alphabetic","titleAlign":"center","titleColor":"#1141b4"}}}},
 {"data":{"name":"orange"},"mark":{"type":"line","color":"#f5a90c","strokeWidth":5,"point":{"filled":true,"size":45,"color":"#f5a90c"}},
  "encoding":{"x":{"field":"h","type":"quantitative","scale":{"domain":[7,24],"nice":false,"zero":false}},
   "y":{"field":"v","type":"quantitative","scale":{"domain":[0,285.2],"nice":false,"zero":false}}}},
 {"data":{"name":"black"},"mark":{"type":"line","color":"#000","strokeWidth":1.6,"point":{"filled":true,"size":40,"shape":"M0,-1L0.4,0L0,1L-0.4,0Z","color":"#000"}},
  "encoding":{"x":{"field":"h","type":"quantitative","scale":{"domain":[7,24],"nice":false,"zero":false},
    "axis":{"orient":"bottom","values":[7,9,11,13,15,17,19,21,23],"labelExpr":"(datum.value<10?'0':'')+datum.value+':00'","tickSize":20,"labelPadding":11,"labelFont":"Liberation Sans","labelFontSize":43,"title":"Standard Time","titleX":681,"titleY":145,"titleFontSize":60,"titleBaseline":"alphabetic","titleAlign":"center","titleColor":"#000"}},
   "y":{"field":"v","type":"quantitative","scale":{"domain":[0,285.2],"nice":false,"zero":false}}}},
 {"data":{"name":"blue"},"mark":{"type":"line","color":"#1a33c4","strokeWidth":2,"point":{"filled":true,"size":70,"shape":"diamond","color":"#1a33c4"}},
  "encoding":{"x":{"field":"h","type":"quantitative","scale":{"domain":[7,24],"nice":false,"zero":false}},
   "y":{"field":"v","type":"quantitative","scale":{"domain":[0,285.2],"nice":false,"zero":false}}}}
]},
{"layer":[
 {"data":{"name":"green"},"mark":{"type":"line","color":"#2ee62e","strokeWidth":2,"point":{"filled":true,"size":80,"shape":"triangle-down","color":"#1fe81f"}},
  "encoding":{"x":{"field":"h","type":"quantitative","scale":{"domain":[7,24],"nice":false,"zero":false}},
   "y":{"field":"v","type":"quantitative","scale":{"type":"log","domain":[12.82,28430],"nice":false},
    "axis":{"orient":"right","values":[100,1000,10000],"labelExpr":"datum.value==100?'10²':datum.value==1000?'10³':'10⁴'","tickSize":20,"labelPadding":20.7,"labelFont":"Liberation Sans","labelFontSize":40,"labelAlign":"left","title":"Intensity, Hz","titleAngle":270,"titleX":181,"titleY":356.7,"titleBaseline":"alphabetic","titleAlign":"center","titleColor":"#1141b4"}}}},
 {"data":{"name":"cyan"},"mark":{"type":"line","color":"#3ee4f0","strokeWidth":2,"point":{"filled":true,"size":70,"shape":"diamond","color":"#22e6f5"}},
  "encoding":{"x":{"field":"h","type":"quantitative","scale":{"domain":[7,24],"nice":false,"zero":false}},
   "y":{"field":"v","type":"quantitative","scale":{"type":"log","domain":[12.82,28430],"nice":false}}}}
]},
{"layer":[
 {"data":{"name":"so2"},"mark":{"type":"line","color":"#ff2a0a","strokeWidth":2,"point":{"filled":true,"size":110,"color":"#ff2a0a"}},
  "encoding":{"x":{"field":"h","type":"quantitative","scale":{"domain":[7,24],"nice":false,"zero":false}},
   "y":{"field":"v","type":"quantitative","scale":{"domain":[-70.37,30],"nice":false,"zero":false},
    "axis":{"orient":"left","values":[10,20,30],"tickSize":19,"labelPadding":12.6,"title":"[SO₂], ppb","titleX":-148.6,"titleY":141.2,"titleAngle":270,"titleBaseline":"alphabetic","titleAlign":"center","titleColor":"#1141b4"}},
   "detail":{"field":"s","type":"nominal"}}}
]},
{"layer":[
 {"mark":{"type":"rect","fill":"#ffffff"},
  "encoding":{"x":{"datum":7.75,"type":"quantitative","scale":{"domain":[7,24],"nice":false,"zero":false}},"x2":{"datum":9.2},
   "y":{"datum":117.5,"type":"quantitative","scale":{"domain":[0,285.2],"nice":false,"zero":false},"axis":null},"y2":{"datum":157}}},
 {"mark":{"type":"rule","stroke":"#000","strokeWidth":2},
  "encoding":{"x":{"datum":7.85,"type":"quantitative","scale":{"domain":[7,24],"nice":false,"zero":false}},"x2":{"datum":8.451},
   "y":{"datum":150.6,"type":"quantitative","scale":{"domain":[0,285.2],"nice":false,"zero":false},"axis":null}}},
 {"mark":{"type":"rule","stroke":"#1a33c4","strokeWidth":2},
  "encoding":{"x":{"datum":7.85,"type":"quantitative","scale":{"domain":[7,24],"nice":false,"zero":false}},"x2":{"datum":8.451},
   "y":{"datum":136.3,"type":"quantitative","scale":{"domain":[0,285.2],"nice":false,"zero":false},"axis":null}}},
 {"mark":{"type":"rule","stroke":"#f5a90c","strokeWidth":2},
  "encoding":{"x":{"datum":7.85,"type":"quantitative","scale":{"domain":[7,24],"nice":false,"zero":false}},"x2":{"datum":8.451},
   "y":{"datum":123.8,"type":"quantitative","scale":{"domain":[0,285.2],"nice":false,"zero":false},"axis":null}}},
 {"mark":{"type":"point","filled":true,"shape":"M0,-1L0.35,0L0,1L-0.35,0Z","size":300,"color":"#000","opacity":1},
  "encoding":{"x":{"datum":8.141,"type":"quantitative","scale":{"domain":[7,24],"nice":false,"zero":false}},
   "y":{"datum":150.6,"type":"quantitative","scale":{"domain":[0,285.2],"nice":false,"zero":false},"axis":null}}},
 {"mark":{"type":"point","filled":true,"shape":"diamond","size":250,"color":"#1a33c4","opacity":1},
  "encoding":{"x":{"datum":8.141,"type":"quantitative","scale":{"domain":[7,24],"nice":false,"zero":false}},
   "y":{"datum":136.3,"type":"quantitative","scale":{"domain":[0,285.2],"nice":false,"zero":false},"axis":null}}},
 {"mark":{"type":"point","filled":true,"shape":"circle","size":230,"color":"#f5a90c","opacity":1},
  "encoding":{"x":{"datum":8.141,"type":"quantitative","scale":{"domain":[7,24],"nice":false,"zero":false}},
   "y":{"datum":123.8,"type":"quantitative","scale":{"domain":[0,285.2],"nice":false,"zero":false},"axis":null}}},
 {"mark":{"type":"text","text":"'293'","font":"Liberation Sans","fontSize":25,"align":"left","baseline":"middle","color":"#222"},
  "encoding":{"x":{"datum":8.599,"type":"quantitative","scale":{"domain":[7,24],"nice":false,"zero":false}},
   "y":{"datum":150.6,"type":"quantitative","scale":{"domain":[0,285.2],"nice":false,"zero":false},"axis":null}}},
 {"mark":{"type":"text","text":"'391'","font":"Liberation Sans","fontSize":25,"align":"left","baseline":"middle","color":"#222"},
  "encoding":{"x":{"datum":8.599,"type":"quantitative","scale":{"domain":[7,24],"nice":false,"zero":false}},
   "y":{"datum":136.3,"type":"quantitative","scale":{"domain":[0,285.2],"nice":false,"zero":false},"axis":null}}},
 {"mark":{"type":"text","text":"489","font":"Liberation Sans","fontSize":25,"align":"left","baseline":"middle","color":"#222"},
  "encoding":{"x":{"datum":8.599,"type":"quantitative","scale":{"domain":[7,24],"nice":false,"zero":false}},
   "y":{"datum":123.8,"type":"quantitative","scale":{"domain":[0,285.2],"nice":false,"zero":false},"axis":null}}},
 {"mark":{"type":"rule","stroke":"#000","strokeWidth":2},
  "encoding":{"x":{"datum":7.3,"type":"quantitative","scale":{"domain":[7,24],"nice":false,"zero":false}},"x2":{"datum":7.511},
   "y":{"datum":139.5,"type":"quantitative","scale":{"domain":[0,285.2],"nice":false,"zero":false},"axis":null}}},
 {"mark":{"type":"point","filled":true,"shape":"M0,0L1,-0.33L1,0.33Z","size":1296,"color":"#000","opacity":1},
  "encoding":{"x":{"datum":7.1,"type":"quantitative","scale":{"domain":[7,24],"nice":false,"zero":false}},
   "y":{"datum":139.5,"type":"quantitative","scale":{"domain":[0,285.2],"nice":false,"zero":false},"axis":null}}},
 {"mark":{"type":"rule","stroke":"#000","strokeWidth":4.5},
  "encoding":{"x":{"datum":8.912,"type":"quantitative","scale":{"domain":[7,24],"nice":false,"zero":false}},"x2":{"datum":8.988},
   "y":{"datum":282.0,"type":"quantitative","scale":{"domain":[0,285.2],"nice":false,"zero":false},"axis":null},"y2":{"datum":0.8}}},
 {"mark":{"type":"rule","stroke":"#000","strokeWidth":4.5},
  "encoding":{"x":{"datum":10.902,"type":"quantitative","scale":{"domain":[7,24],"nice":false,"zero":false}},"x2":{"datum":10.978},
   "y":{"datum":280.1,"type":"quantitative","scale":{"domain":[0,285.2],"nice":false,"zero":false},"axis":null},"y2":{"datum":0.8}}},
 {"mark":{"type":"rect","fill":"#c6d4fa"},
  "encoding":{"x":{"datum":11.832,"type":"quantitative","scale":{"domain":[7,24],"nice":false,"zero":false}},"x2":{"datum":21.462},
   "y":{"datum":309.1,"type":"quantitative","scale":{"domain":[0,285.2],"nice":false,"zero":false},"axis":null},"y2":{"datum":240.8}}},
 {"mark":{"type":"text","text":"NPF (Plume Impact) Event:","font":"Liberation Serif","fontSize":63,"align":"center","baseline":"alphabetic","color":"#000"},
  "encoding":{"x":{"datum":16.69,"type":"quantitative","scale":{"domain":[7,24],"nice":false,"zero":false}},
   "y":{"datum":279.95,"type":"quantitative","scale":{"domain":[0,285.2],"nice":false,"zero":false},"axis":null}}},
 {"mark":{"type":"text","text":"9:00-11:00","font":"Liberation Serif","fontSize":63,"align":"center","baseline":"alphabetic","color":"#000"},
  "encoding":{"x":{"datum":16.469,"type":"quantitative","scale":{"domain":[7,24],"nice":false,"zero":false}},
   "y":{"datum":249.3,"type":"quantitative","scale":{"domain":[0,285.2],"nice":false,"zero":false},"axis":null}}},
 {"mark":{"type":"rule","stroke":"#000","strokeWidth":4},
  "encoding":{"x":{"datum":11.901,"type":"quantitative","scale":{"domain":[7,24],"nice":false,"zero":false}},"x2":{"datum":10.44},
   "y":{"datum":253.97,"type":"quantitative","scale":{"domain":[0,285.2],"nice":false,"zero":false},"axis":null},"y2":{"datum":224.2}}},
 {"mark":{"type":"point","filled":false,"shape":"M-1,-0.6L0,0L-1,0.6","size":2500,"stroke":"#000","strokeWidth":4,"angle":146.5,"opacity":1},
  "encoding":{"x":{"datum":10.427,"type":"quantitative","scale":{"domain":[7,24],"nice":false,"zero":false}},
   "y":{"datum":223.8,"type":"quantitative","scale":{"domain":[0,285.2],"nice":false,"zero":false},"axis":null}}},
 {"mark":{"type":"text","text":"n=1: m/z=160:  HSO₄⁻ · HNO₃","font":"Liberation Serif","fontSize":42,"align":"left","baseline":"alphabetic","color":"#11ee11"},
  "encoding":{"x":{"datum":4.557,"type":"quantitative","scale":{"domain":[7,24],"nice":false,"zero":false}},
   "y":{"datum":-57.1,"type":"quantitative","scale":{"domain":[0,285.2],"nice":false,"zero":false},"axis":null}}}
]},
{"layer":[
 {"mark":{"type":"rule","stroke":"#2ee62e","strokeWidth":2},
  "encoding":{"x":{"datum":21.706,"type":"quantitative","scale":{"domain":[7,24],"nice":false,"zero":false}},"x2":{"datum":22.301},
   "y":{"datum":9683,"type":"quantitative","scale":{"type":"log","domain":[12.82,28430],"nice":false},
    "axis":{"orient":"right","values":[20,30,40,50,60,70,80,90,200,300,400,500,600,700,800,900,2000,3000,4000,5000,6000,7000,8000,9000,20000],"tickSize":10.7,"labels":false,"title":null}}}},
 {"mark":{"type":"rule","stroke":"#3ee4f0","strokeWidth":2},
  "encoding":{"x":{"datum":21.706,"type":"quantitative","scale":{"domain":[7,24],"nice":false,"zero":false}},"x2":{"datum":22.301},
   "y":{"datum":6927,"type":"quantitative","scale":{"type":"log","domain":[12.82,28430],"nice":false}}}},
 {"mark":{"type":"point","filled":true,"shape":"triangle-down","size":220,"color":"#1fe81f","opacity":1},
  "encoding":{"x":{"datum":22.006,"type":"quantitative","scale":{"domain":[7,24],"nice":false,"zero":false}},
   "y":{"datum":9683,"type":"quantitative","scale":{"type":"log","domain":[12.82,28430],"nice":false}}}},
 {"mark":{"type":"point","filled":true,"shape":"diamond","size":200,"color":"#22e6f5","opacity":1},
  "encoding":{"x":{"datum":22.006,"type":"quantitative","scale":{"domain":[7,24],"nice":false,"zero":false}},
   "y":{"datum":6927,"type":"quantitative","scale":{"type":"log","domain":[12.82,28430],"nice":false}}}},
 {"mark":{"type":"text","text":"'160'","font":"Liberation Sans","fontSize":25,"align":"left","baseline":"middle","color":"#222"},
  "encoding":{"x":{"datum":22.466,"type":"quantitative","scale":{"domain":[7,24],"nice":false,"zero":false}},
   "y":{"datum":9683,"type":"quantitative","scale":{"type":"log","domain":[12.82,28430],"nice":false}}}},
 {"mark":{"type":"text","text":"'195'","font":"Liberation Sans","fontSize":25,"align":"left","baseline":"middle","color":"#222"},
  "encoding":{"x":{"datum":22.466,"type":"quantitative","scale":{"domain":[7,24],"nice":false,"zero":false}},
   "y":{"datum":6927,"type":"quantitative","scale":{"type":"log","domain":[12.82,28430],"nice":false}}}},
 {"mark":{"type":"rule","stroke":"#000","strokeWidth":2},
  "encoding":{"x":{"datum":23.351,"type":"quantitative","scale":{"domain":[7,24],"nice":false,"zero":false}},"x2":{"datum":23.65},
   "y":{"datum":8557,"type":"quantitative","scale":{"type":"log","domain":[12.82,28430],"nice":false}}}},
 {"mark":{"type":"point","filled":true,"shape":"M0,0L-1,-0.33L-1,0.33Z","size":900,"color":"#000","opacity":1},
  "encoding":{"x":{"datum":23.82,"type":"quantitative","scale":{"domain":[7,24],"nice":false,"zero":false}},
   "y":{"datum":8557,"type":"quantitative","scale":{"type":"log","domain":[12.82,28430],"nice":false}}}}
]},
{"layer":[
 {"mark":{"type":"rule","stroke":"#ff2a0a","strokeWidth":2},
  "encoding":{"x":{"datum":7.95,"type":"quantitative","scale":{"domain":[7,24],"nice":false,"zero":false}},"x2":{"datum":8.549},
   "y":{"datum":20.78,"type":"quantitative","scale":{"domain":[-70.37,30],"nice":false,"zero":false},
    "axis":{"orient":"left","values":[5,15,25],"tickSize":10,"labels":false,"title":null}}}},
 {"mark":{"type":"point","filled":true,"shape":"circle","size":227,"color":"#ff2a0a","opacity":1},
  "encoding":{"x":{"datum":8.241,"type":"quantitative","scale":{"domain":[7,24],"nice":false,"zero":false}},
   "y":{"datum":20.78,"type":"quantitative","scale":{"domain":[-70.37,30],"nice":false,"zero":false}}}},
 {"mark":{"type":"text","text":"SO2","font":"Liberation Sans","fontSize":25,"align":"left","baseline":"middle","color":"#222"},
  "encoding":{"x":{"datum":8.7,"type":"quantitative","scale":{"domain":[7,24],"nice":false,"zero":false}},
   "y":{"datum":20.78,"type":"quantitative","scale":{"domain":[-70.37,30],"nice":false,"zero":false}}}},
 {"mark":{"type":"rule","stroke":"#000","strokeWidth":2},
  "encoding":{"x":{"datum":7.4,"type":"quantitative","scale":{"domain":[7,24],"nice":false,"zero":false}},"x2":{"datum":7.6},
   "y":{"datum":20.78,"type":"quantitative","scale":{"domain":[-70.37,30],"nice":false,"zero":false}}}},
 {"mark":{"type":"point","filled":true,"shape":"M0,0L1,-0.33L1,0.33Z","size":1296,"color":"#000","opacity":1},
  "encoding":{"x":{"datum":7.176,"type":"quantitative","scale":{"domain":[7,24],"nice":false,"zero":false}},
   "y":{"datum":20.78,"type":"quantitative","scale":{"domain":[-70.37,30],"nice":false,"zero":false}}}}
]}
]
}
